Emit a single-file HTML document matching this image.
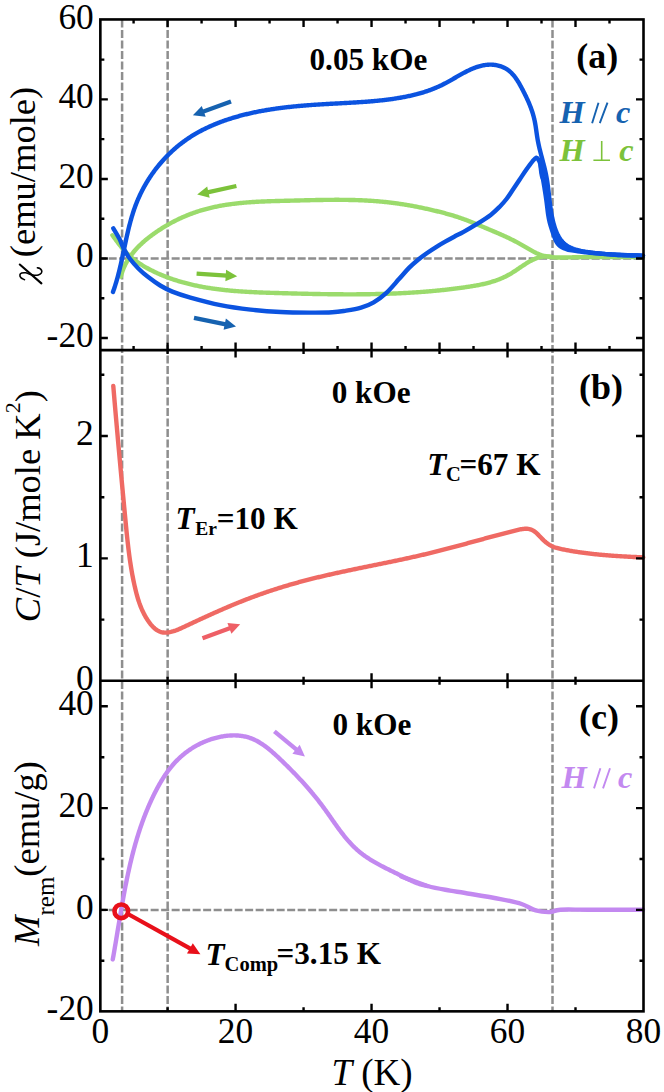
<!DOCTYPE html>
<html><head><meta charset="utf-8"><style>
html,body{margin:0;padding:0;background:#fff;}
body{width:664px;height:1092px;overflow:hidden;font-family:"Liberation Serif",serif;}
svg{display:block;}
</style></head><body>
<svg width="664" height="1092" viewBox="0 0 664 1092"><rect x="0" y="0" width="664" height="1092" fill="#fff"/>
<line x1="122.10" y1="19.45" x2="122.10" y2="1011.35" stroke="#8e8e8e" stroke-width="2.5" stroke-dasharray="8,2.5" fill="none"/>
<line x1="167.65" y1="19.45" x2="167.65" y2="1011.35" stroke="#8e8e8e" stroke-width="2.5" stroke-dasharray="8,2.5" fill="none"/>
<line x1="552.50" y1="19.45" x2="552.50" y2="1011.35" stroke="#8e8e8e" stroke-width="2.5" stroke-dasharray="8,2.5" fill="none"/>
<line x1="100.35" y1="258.50" x2="643.50" y2="258.50" stroke="#8e8e8e" stroke-width="2.5" stroke-dasharray="8,2.5" fill="none" stroke-dashoffset="2.2"/>
<line x1="100.35" y1="909.90" x2="643.50" y2="909.90" stroke="#8e8e8e" stroke-width="2.5" stroke-dasharray="8,2.5" fill="none" stroke-dashoffset="2.2"/>
<path d="M112.42,235.23 L113.01,236.04 L113.60,236.85 L114.20,237.66 L114.79,238.48 L115.39,239.29 L115.98,240.10 L116.58,240.91 L117.18,241.71 L117.79,242.52 L118.40,243.32 L119.01,244.12 L119.63,244.91 L120.25,245.70 L120.88,246.48 L121.51,247.26 L122.15,248.03 L122.80,248.79 L123.45,249.55 L124.12,250.30 L124.79,251.04 L125.47,251.78 L126.15,252.50 L126.85,253.21 L127.56,253.92 L128.28,254.61 L129.01,255.30 L129.74,255.97 L130.49,256.64 L131.25,257.29 L132.01,257.94 L132.79,258.57 L133.57,259.20 L134.36,259.81 L135.16,260.42 L135.96,261.02 L136.78,261.61 L137.60,262.19 L138.43,262.76 L139.26,263.32 L140.10,263.88 L140.95,264.43 L141.80,264.96 L142.66,265.50 L143.52,266.02 L144.39,266.53 L145.26,267.04 L146.14,267.54 L147.03,268.03 L147.91,268.52 L148.80,269.00 L149.70,269.47 L150.59,269.93 L151.49,270.39 L152.40,270.84 L153.30,271.28 L154.21,271.72 L155.12,272.15 L156.03,272.58 L156.95,272.99 L157.86,273.41 L158.78,273.81 L159.70,274.22 L160.62,274.61 L161.54,275.00 L162.46,275.38 L163.39,275.76 L164.31,276.13 L165.24,276.50 L166.17,276.86 L167.10,277.21 L168.03,277.56 L168.97,277.91 L169.91,278.25 L170.84,278.58 L171.78,278.91 L172.72,279.23 L173.66,279.55 L174.61,279.86 L175.55,280.17 L176.50,280.47 L177.44,280.77 L178.39,281.06 L179.34,281.35 L180.29,281.63 L181.25,281.90 L182.20,282.18 L183.16,282.44 L184.11,282.71 L185.07,282.97 L186.03,283.22 L186.99,283.47 L187.95,283.71 L188.91,283.95 L189.88,284.19 L190.84,284.42 L191.81,284.64 L192.78,284.87 L193.74,285.09 L194.71,285.30 L195.69,285.51 L196.66,285.71 L197.63,285.92 L198.60,286.11 L199.58,286.31 L200.56,286.50 L201.53,286.68 L202.51,286.86 L203.49,287.04 L204.47,287.22 L205.45,287.39 L206.43,287.55 L207.41,287.72 L208.40,287.88 L209.38,288.03 L210.37,288.19 L211.35,288.34 L212.34,288.48 L213.33,288.63 L214.32,288.77 L215.31,288.90 L216.30,289.04 L217.29,289.17 L218.28,289.29 L219.27,289.42 L220.27,289.54 L221.26,289.66 L222.26,289.77 L223.25,289.88 L224.25,289.99 L225.25,290.10 L226.24,290.20 L227.24,290.31 L228.24,290.40 L229.24,290.50 L230.24,290.59 L231.24,290.69 L232.24,290.77 L233.24,290.86 L234.24,290.95 L235.25,291.03 L236.25,291.11 L237.25,291.18 L238.26,291.26 L239.26,291.33 L240.27,291.40 L241.27,291.47 L242.28,291.54 L243.28,291.61 L244.29,291.67 L245.30,291.73 L246.30,291.79 L247.31,291.85 L248.32,291.91 L249.33,291.96 L250.34,292.01 L251.35,292.07 L252.35,292.12 L253.36,292.17 L254.37,292.21 L255.38,292.26 L256.39,292.31 L257.40,292.35 L258.41,292.39 L259.42,292.43 L260.43,292.47 L261.44,292.51 L262.45,292.55 L263.46,292.59 L264.48,292.63 L265.49,292.66 L266.50,292.70 L267.51,292.73 L268.52,292.76 L269.53,292.80 L270.54,292.83 L271.55,292.86 L272.56,292.89 L273.57,292.92 L274.58,292.95 L275.60,292.98 L276.61,293.01 L277.62,293.04 L278.63,293.07 L279.64,293.09 L280.65,293.12 L281.66,293.15 L282.67,293.18 L283.68,293.21 L284.68,293.24 L285.69,293.26 L286.70,293.29 L287.71,293.32 L288.72,293.35 L289.73,293.37 L290.74,293.40 L291.74,293.43 L292.75,293.45 L293.76,293.48 L294.77,293.50 L295.78,293.53 L296.78,293.56 L297.79,293.58 L298.80,293.61 L299.80,293.63 L300.81,293.66 L301.82,293.68 L302.82,293.70 L303.83,293.73 L304.83,293.75 L305.84,293.77 L306.85,293.80 L307.85,293.82 L308.86,293.84 L309.86,293.86 L310.87,293.88 L311.87,293.91 L312.88,293.93 L313.88,293.95 L314.89,293.97 L315.89,293.99 L316.90,294.01 L317.90,294.02 L318.90,294.04 L319.91,294.06 L320.91,294.08 L321.92,294.09 L322.92,294.11 L323.92,294.13 L324.93,294.14 L325.93,294.16 L326.93,294.17 L327.93,294.18 L328.94,294.20 L329.94,294.21 L330.94,294.22 L331.94,294.23 L332.95,294.25 L333.95,294.26 L334.95,294.27 L335.95,294.28 L336.95,294.28 L337.96,294.29 L338.96,294.30 L339.96,294.31 L340.96,294.31 L341.96,294.32 L342.96,294.32 L343.96,294.33 L344.96,294.33 L345.97,294.34 L346.97,294.34 L347.97,294.34 L348.97,294.34 L349.97,294.34 L350.97,294.34 L351.97,294.34 L352.97,294.34 L353.97,294.34 L354.97,294.33 L355.97,294.33 L356.97,294.32 L357.97,294.32 L358.97,294.31 L359.97,294.30 L360.97,294.30 L361.97,294.29 L362.96,294.28 L363.96,294.27 L364.96,294.26 L365.96,294.24 L366.96,294.23 L367.96,294.22 L368.96,294.20 L369.96,294.19 L370.96,294.17 L371.95,294.15 L372.95,294.13 L373.95,294.11 L374.95,294.09 L375.95,294.07 L376.95,294.05 L377.94,294.03 L378.94,294.00 L379.94,293.98 L380.94,293.95 L381.94,293.93 L382.93,293.90 L383.93,293.87 L384.93,293.84 L385.93,293.81 L386.92,293.78 L387.92,293.74 L388.92,293.71 L389.92,293.67 L390.91,293.64 L391.91,293.60 L392.91,293.56 L393.91,293.52 L394.90,293.48 L395.90,293.44 L396.90,293.39 L397.89,293.35 L398.89,293.31 L399.89,293.26 L400.89,293.21 L401.88,293.16 L402.88,293.11 L403.88,293.06 L404.87,293.01 L405.87,292.96 L406.87,292.90 L407.86,292.84 L408.86,292.79 L409.86,292.73 L410.85,292.67 L411.85,292.61 L412.85,292.55 L413.84,292.48 L414.84,292.42 L415.84,292.35 L416.83,292.28 L417.83,292.22 L418.83,292.15 L419.82,292.07 L420.82,292.00 L421.82,291.93 L422.81,291.85 L423.81,291.77 L424.80,291.70 L425.80,291.62 L426.80,291.54 L427.79,291.45 L428.79,291.37 L429.79,291.28 L430.78,291.20 L431.78,291.11 L432.78,291.02 L433.77,290.93 L434.77,290.84 L435.77,290.74 L436.76,290.65 L437.76,290.55 L438.75,290.45 L439.75,290.35 L440.75,290.25 L441.74,290.15 L442.74,290.04 L443.74,289.94 L444.73,289.83 L445.73,289.72 L446.73,289.61 L447.72,289.50 L448.72,289.38 L449.72,289.27 L450.71,289.15 L451.71,289.03 L452.71,288.91 L453.70,288.79 L454.70,288.67 L455.70,288.54 L456.69,288.41 L457.69,288.29 L458.69,288.15 L459.68,288.02 L460.68,287.89 L461.68,287.75 L462.67,287.62 L463.67,287.48 L464.67,287.34 L465.66,287.19 L466.66,287.05 L467.66,286.90 L468.65,286.75 L469.65,286.60 L470.64,286.44 L471.64,286.28 L472.63,286.12 L473.63,285.95 L474.62,285.78 L475.61,285.61 L476.60,285.43 L477.58,285.24 L478.57,285.05 L479.56,284.86 L480.54,284.66 L481.52,284.45 L482.50,284.24 L483.48,284.02 L484.45,283.79 L485.43,283.56 L486.40,283.32 L487.37,283.07 L488.33,282.82 L489.30,282.55 L490.26,282.28 L491.21,282.00 L492.17,281.72 L493.12,281.42 L494.07,281.11 L495.01,280.80 L495.96,280.48 L496.89,280.14 L497.83,279.80 L498.76,279.44 L499.69,279.08 L500.61,278.70 L501.53,278.32 L502.44,277.92 L503.36,277.51 L504.26,277.09 L505.16,276.66 L506.06,276.21 L506.95,275.76 L507.84,275.29 L508.73,274.80 L509.60,274.31 L510.48,273.80 L511.35,273.28 L512.21,272.75 L513.07,272.21 L513.93,271.66 L514.78,271.10 L515.63,270.54 L516.48,269.97 L517.33,269.40 L518.18,268.83 L519.03,268.25 L519.87,267.67 L520.72,267.10 L521.57,266.53 L522.41,265.96 L523.26,265.39 L524.11,264.83 L524.96,264.28 L525.82,263.74 L526.68,263.20 L527.54,262.68 L528.40,262.16 L529.27,261.66 L530.14,261.17 L531.02,260.70 L531.90,260.25 L532.79,259.81 L533.69,259.39 L534.59,259.00 L535.50,258.62 L536.42,258.27 L537.34,257.95 L538.27,257.65 L539.21,257.38 L540.16,257.14 L541.12,256.93 L542.09,256.75 L543.07,256.61 L544.06,256.50 L545.06,256.43 L546.08,256.39 L547.10,256.40 L548.14,256.44 L549.19,256.53 L550.25,256.66 L551.33,256.83" fill="none" stroke="#9bdb6c" stroke-width="4.40" stroke-linecap="round" stroke-linejoin="round" />
<path d="M120.83,276.72 L121.08,275.72 L121.36,274.72 L121.65,273.73 L121.95,272.76 L122.28,271.79 L122.62,270.83 L122.97,269.88 L123.34,268.94 L123.73,268.01 L124.13,267.09 L124.54,266.18 L124.97,265.28 L125.41,264.39 L125.87,263.50 L126.34,262.63 L126.82,261.76 L127.32,260.90 L127.83,260.05 L128.36,259.21 L128.89,258.38 L129.44,257.55 L130.00,256.74 L130.57,255.93 L131.16,255.13 L131.75,254.34 L132.36,253.55 L132.97,252.78 L133.60,252.01 L134.24,251.25 L134.89,250.49 L135.54,249.75 L136.21,249.01 L136.89,248.28 L137.57,247.55 L138.27,246.83 L138.97,246.12 L139.68,245.42 L140.40,244.73 L141.13,244.04 L141.86,243.35 L142.61,242.68 L143.36,242.01 L144.11,241.34 L144.88,240.69 L145.65,240.04 L146.42,239.39 L147.20,238.75 L147.99,238.12 L148.79,237.50 L149.58,236.88 L150.39,236.26 L151.19,235.65 L152.01,235.05 L152.82,234.45 L153.64,233.86 L154.47,233.27 L155.30,232.69 L156.13,232.11 L156.96,231.54 L157.80,230.98 L158.64,230.42 L159.49,229.86 L160.34,229.31 L161.19,228.77 L162.04,228.23 L162.90,227.69 L163.76,227.16 L164.62,226.64 L165.49,226.12 L166.36,225.61 L167.23,225.11 L168.10,224.60 L168.98,224.11 L169.86,223.62 L170.75,223.13 L171.63,222.66 L172.52,222.18 L173.41,221.72 L174.31,221.25 L175.20,220.80 L176.10,220.35 L177.00,219.90 L177.91,219.46 L178.81,219.03 L179.72,218.60 L180.63,218.18 L181.55,217.76 L182.46,217.35 L183.38,216.95 L184.30,216.55 L185.22,216.16 L186.15,215.77 L187.07,215.39 L188.00,215.01 L188.93,214.64 L189.87,214.28 L190.80,213.92 L191.74,213.57 L192.67,213.23 L193.61,212.89 L194.55,212.55 L195.50,212.23 L196.44,211.91 L197.39,211.59 L198.34,211.28 L199.29,210.98 L200.24,210.68 L201.19,210.39 L202.15,210.11 L203.10,209.83 L204.06,209.56 L205.02,209.29 L205.98,209.03 L206.94,208.78 L207.90,208.53 L208.86,208.29 L209.83,208.05 L210.80,207.81 L211.76,207.59 L212.73,207.37 L213.70,207.15 L214.67,206.94 L215.65,206.73 L216.62,206.53 L217.60,206.34 L218.57,206.14 L219.55,205.96 L220.53,205.78 L221.51,205.60 L222.49,205.43 L223.47,205.26 L224.45,205.10 L225.44,204.94 L226.42,204.78 L227.41,204.63 L228.39,204.49 L229.38,204.35 L230.37,204.21 L231.36,204.07 L232.35,203.94 L233.34,203.82 L234.33,203.70 L235.33,203.58 L236.32,203.46 L237.31,203.35 L238.31,203.24 L239.30,203.14 L240.30,203.04 L241.30,202.94 L242.30,202.85 L243.30,202.75 L244.29,202.67 L245.30,202.58 L246.30,202.50 L247.30,202.42 L248.30,202.34 L249.30,202.27 L250.30,202.19 L251.31,202.13 L252.31,202.06 L253.32,201.99 L254.32,201.93 L255.33,201.87 L256.33,201.82 L257.34,201.76 L258.35,201.71 L259.35,201.66 L260.36,201.61 L261.37,201.56 L262.38,201.51 L263.39,201.47 L264.39,201.43 L265.40,201.39 L266.41,201.35 L267.42,201.31 L268.43,201.27 L269.44,201.24 L270.45,201.20 L271.46,201.17 L272.47,201.14 L273.48,201.11 L274.49,201.08 L275.50,201.05 L276.51,201.02 L277.52,200.99 L278.54,200.97 L279.55,200.94 L280.56,200.91 L281.57,200.89 L282.58,200.86 L283.59,200.84 L284.60,200.81 L285.61,200.79 L286.62,200.77 L287.63,200.74 L288.64,200.72 L289.65,200.69 L290.66,200.67 L291.67,200.64 L292.68,200.62 L293.69,200.59 L294.70,200.57 L295.70,200.54 L296.71,200.51 L297.72,200.49 L298.73,200.46 L299.74,200.44 L300.74,200.41 L301.75,200.39 L302.76,200.36 L303.76,200.34 L304.77,200.31 L305.78,200.29 L306.78,200.26 L307.79,200.24 L308.80,200.21 L309.80,200.19 L310.81,200.17 L311.81,200.14 L312.82,200.12 L313.82,200.10 L314.83,200.08 L315.83,200.06 L316.84,200.04 L317.84,200.02 L318.84,200.00 L319.85,199.98 L320.85,199.97 L321.86,199.95 L322.86,199.93 L323.86,199.92 L324.87,199.91 L325.87,199.89 L326.87,199.88 L327.87,199.87 L328.88,199.86 L329.88,199.85 L330.88,199.84 L331.88,199.84 L332.88,199.83 L333.88,199.83 L334.89,199.82 L335.89,199.82 L336.89,199.82 L337.89,199.82 L338.89,199.82 L339.89,199.83 L340.89,199.83 L341.89,199.84 L342.89,199.85 L343.89,199.85 L344.89,199.87 L345.89,199.88 L346.89,199.89 L347.89,199.91 L348.89,199.93 L349.88,199.94 L350.88,199.96 L351.88,199.99 L352.88,200.01 L353.88,200.04 L354.88,200.07 L355.87,200.10 L356.87,200.13 L357.87,200.16 L358.87,200.20 L359.87,200.24 L360.86,200.28 L361.86,200.32 L362.86,200.36 L363.85,200.41 L364.85,200.46 L365.85,200.51 L366.84,200.56 L367.84,200.62 L368.84,200.68 L369.83,200.74 L370.83,200.80 L371.82,200.86 L372.82,200.93 L373.81,201.00 L374.81,201.08 L375.81,201.15 L376.80,201.23 L377.80,201.31 L378.79,201.39 L379.79,201.48 L380.78,201.57 L381.77,201.66 L382.77,201.75 L383.76,201.85 L384.76,201.95 L385.75,202.05 L386.75,202.16 L387.74,202.27 L388.73,202.38 L389.73,202.50 L390.72,202.62 L391.71,202.74 L392.71,202.86 L393.70,202.99 L394.69,203.12 L395.69,203.25 L396.68,203.39 L397.67,203.53 L398.66,203.67 L399.65,203.82 L400.65,203.96 L401.64,204.11 L402.63,204.27 L403.62,204.42 L404.61,204.58 L405.60,204.75 L406.59,204.91 L407.58,205.08 L408.57,205.25 L409.56,205.42 L410.55,205.60 L411.54,205.77 L412.53,205.95 L413.52,206.14 L414.50,206.32 L415.49,206.51 L416.48,206.70 L417.46,206.90 L418.45,207.09 L419.44,207.29 L420.42,207.49 L421.41,207.69 L422.39,207.90 L423.37,208.11 L424.36,208.32 L425.34,208.53 L426.32,208.74 L427.31,208.96 L428.29,209.18 L429.27,209.40 L430.25,209.62 L431.23,209.85 L432.21,210.08 L433.19,210.31 L434.16,210.54 L435.14,210.77 L436.12,211.01 L437.10,211.25 L438.07,211.49 L439.05,211.73 L440.02,211.98 L440.99,212.22 L441.97,212.48 L442.94,212.73 L443.91,212.98 L444.88,213.24 L445.85,213.51 L446.81,213.77 L447.78,214.04 L448.74,214.31 L449.71,214.59 L450.67,214.87 L451.63,215.15 L452.59,215.44 L453.55,215.73 L454.50,216.03 L455.46,216.33 L456.41,216.63 L457.36,216.94 L458.31,217.25 L459.26,217.57 L460.21,217.89 L461.15,218.22 L462.09,218.55 L463.04,218.89 L463.97,219.23 L464.91,219.57 L465.85,219.92 L466.78,220.28 L467.71,220.63 L468.65,220.99 L469.58,221.36 L470.50,221.73 L471.43,222.10 L472.36,222.47 L473.29,222.84 L474.21,223.22 L475.14,223.60 L476.06,223.98 L476.98,224.37 L477.91,224.75 L478.83,225.14 L479.75,225.53 L480.67,225.91 L481.59,226.30 L482.51,226.69 L483.43,227.08 L484.36,227.47 L485.28,227.86 L486.20,228.25 L487.12,228.64 L488.04,229.03 L488.97,229.42 L489.89,229.81 L490.81,230.20 L491.73,230.59 L492.66,230.98 L493.58,231.37 L494.50,231.76 L495.42,232.15 L496.34,232.55 L497.26,232.94 L498.18,233.34 L499.10,233.74 L500.02,234.14 L500.94,234.54 L501.85,234.95 L502.77,235.36 L503.68,235.77 L504.60,236.18 L505.51,236.60 L506.42,237.02 L507.33,237.45 L508.24,237.87 L509.15,238.30 L510.05,238.74 L510.96,239.18 L511.86,239.62 L512.76,240.07 L513.66,240.53 L514.55,240.99 L515.45,241.45 L516.34,241.92 L517.23,242.39 L518.12,242.87 L519.01,243.36 L519.89,243.85 L520.77,244.35 L521.65,244.85 L522.53,245.36 L523.41,245.87 L524.28,246.38 L525.15,246.89 L526.03,247.41 L526.90,247.92 L527.77,248.43 L528.65,248.94 L529.52,249.44 L530.39,249.94 L531.27,250.43 L532.15,250.91 L533.03,251.39 L533.91,251.85 L534.79,252.31 L535.68,252.74 L536.57,253.17 L537.47,253.57 L538.37,253.95 L539.28,254.32 L540.19,254.66 L541.12,254.97 L542.04,255.27 L542.98,255.54 L543.92,255.79 L544.86,256.02 L545.81,256.22 L546.77,256.41 L547.73,256.58 L548.70,256.74 L549.67,256.87 L550.64,256.99 L551.62,257.10 L552.61,257.19 L553.59,257.27 L554.58,257.34 L555.58,257.39 L556.57,257.43 L557.57,257.47 L558.57,257.49 L559.58,257.50 L560.58,257.51 L561.59,257.51 L562.60,257.51 L563.61,257.50 L564.62,257.48 L565.63,257.47 L566.64,257.45 L567.65,257.42 L568.67,257.40 L569.68,257.38 L570.69,257.35 L571.70,257.33 L572.71,257.31 L573.73,257.29 L574.74,257.27 L575.75,257.25 L576.76,257.23 L577.76,257.21 L578.77,257.20 L579.78,257.18 L580.79,257.17 L581.80,257.15 L582.80,257.14 L583.81,257.13 L584.82,257.11 L585.83,257.10 L586.83,257.09 L587.84,257.08 L588.84,257.07 L589.85,257.06 L590.85,257.05 L591.86,257.05 L592.86,257.04 L593.87,257.03 L594.87,257.03 L595.87,257.02 L596.88,257.02 L597.88,257.01 L598.89,257.01 L599.89,257.00 L600.89,257.00 L601.89,257.00 L602.90,257.00 L603.90,257.00 L604.90,256.99 L605.90,256.99 L606.91,256.99 L607.91,257.00 L608.91,257.00 L609.91,257.00 L610.91,257.00 L611.92,257.00 L612.92,257.00 L613.92,257.01 L614.92,257.01 L615.92,257.01 L616.92,257.02 L617.93,257.02 L618.93,257.03 L619.93,257.03 L620.93,257.04 L621.93,257.04 L622.94,257.05 L623.94,257.06 L624.94,257.06 L625.94,257.07 L626.94,257.08 L627.95,257.08 L628.95,257.09 L629.95,257.10 L630.95,257.10 L631.96,257.11 L632.96,257.12 L633.96,257.13 L634.97,257.14 L635.97,257.15 L636.97,257.15 L637.98,257.16 L638.98,257.17 L639.98,257.18 L640.99,257.19 L641.99,257.20 L643.00,257.21" fill="none" stroke="#9bdb6c" stroke-width="4.40" stroke-linecap="round" stroke-linejoin="round" />
<path d="M113.30,228.30 C114.30,230.02 117.50,235.08 119.30,238.60 C121.10,242.12 122.30,246.00 124.10,249.40 C125.90,252.80 127.68,255.78 130.10,259.00 C132.52,262.22 135.58,265.68 138.60,268.70 C141.62,271.72 144.60,274.30 148.20,277.10 C151.80,279.90 156.18,283.08 160.20,285.50 C164.22,287.92 167.27,289.58 172.30,291.60 C177.33,293.62 182.37,295.35 190.40,297.60 C198.43,299.85 210.47,303.10 220.50,305.10 C230.53,307.10 240.57,308.45 250.60,309.60 C260.63,310.75 270.80,311.50 280.70,312.00 C290.60,312.50 301.42,312.55 310.00,312.60 C318.58,312.65 326.37,312.60 332.20,312.30 C338.03,312.00 340.18,311.58 345.00,310.80 C349.82,310.02 356.32,309.02 361.10,307.60 C365.88,306.18 369.48,304.77 373.70,302.30 C377.92,299.83 382.18,296.67 386.40,292.80 C390.62,288.93 395.23,283.25 399.00,279.10 C402.77,274.95 405.82,271.13 409.00,267.90 C412.18,264.67 415.08,262.18 418.10,259.70 C421.12,257.22 424.10,255.10 427.10,253.00 C430.10,250.90 433.08,248.98 436.10,247.10 C439.12,245.22 442.18,243.43 445.20,241.70 C448.22,239.97 451.13,238.35 454.20,236.70 C457.27,235.05 459.78,233.93 463.60,231.80 C467.42,229.67 472.58,226.72 477.10,223.90 C481.62,221.08 486.93,217.77 490.70,214.90 C494.47,212.03 497.07,209.35 499.70,206.70 C502.33,204.05 504.28,201.87 506.50,199.00 C508.72,196.13 510.80,192.75 513.00,189.50 C515.20,186.25 517.47,182.83 519.70,179.50 C521.93,176.17 524.27,172.53 526.40,169.50 C528.53,166.47 530.83,163.28 532.50,161.30 C534.17,159.32 535.38,157.82 536.40,157.60 C537.42,157.38 537.95,158.93 538.60,160.00 C539.25,161.07 539.65,161.33 540.30,164.00 C540.95,166.67 541.80,171.97 542.50,176.00 C543.20,180.03 543.87,184.20 544.50,188.20 C545.13,192.20 545.68,195.53 546.30,200.00 C546.92,204.47 547.63,211.25 548.20,215.00 C548.77,218.75 549.07,220.00 549.70,222.50 C550.33,225.00 551.18,227.48 552.00,230.00 C552.82,232.52 553.85,235.60 554.60,237.60 C555.35,239.60 555.77,240.73 556.50,242.00 C557.23,243.27 558.08,244.33 559.00,245.20 C559.92,246.07 560.83,246.57 562.00,247.20 C563.17,247.83 564.67,248.50 566.00,249.00 C567.33,249.50 568.05,249.83 570.00,250.20 C571.95,250.57 575.17,250.87 577.70,251.20 C580.23,251.53 583.15,251.93 585.20,252.20 C587.25,252.47 587.42,252.55 590.00,252.80 C592.58,253.05 596.67,253.38 600.70,253.70 C604.73,254.02 609.68,254.45 614.20,254.70 C618.72,254.95 623.00,255.03 627.80,255.20 C632.60,255.37 640.47,255.62 643.00,255.70" fill="none" stroke="#0b53e0" stroke-width="4.40" stroke-linecap="round" stroke-linejoin="round" />
<path d="M112.98,291.98 L113.31,291.04 L113.64,290.10 L113.97,289.16 L114.29,288.22 L114.60,287.28 L114.91,286.33 L115.21,285.38 L115.51,284.44 L115.80,283.48 L116.09,282.53 L116.37,281.57 L116.65,280.62 L116.93,279.66 L117.20,278.70 L117.46,277.74 L117.72,276.77 L117.98,275.81 L118.24,274.84 L118.49,273.88 L118.74,272.91 L118.98,271.94 L119.22,270.97 L119.46,269.99 L119.70,269.02 L119.93,268.04 L120.16,267.07 L120.39,266.09 L120.61,265.11 L120.83,264.14 L121.05,263.16 L121.27,262.18 L121.49,261.20 L121.71,260.22 L121.92,259.23 L122.13,258.25 L122.34,257.27 L122.55,256.28 L122.76,255.30 L122.97,254.32 L123.18,253.33 L123.39,252.35 L123.60,251.36 L123.80,250.38 L124.01,249.39 L124.22,248.41 L124.42,247.42 L124.63,246.44 L124.84,245.45 L125.05,244.47 L125.26,243.49 L125.47,242.50 L125.68,241.52 L125.89,240.53 L126.10,239.55 L126.32,238.57 L126.53,237.59 L126.75,236.61 L126.97,235.63 L127.19,234.65 L127.41,233.67 L127.64,232.69 L127.87,231.71 L128.10,230.73 L128.33,229.76 L128.57,228.78 L128.81,227.81 L129.05,226.84 L129.29,225.87 L129.54,224.90 L129.79,223.93 L130.05,222.96 L130.31,221.99 L130.57,221.03 L130.84,220.06 L131.11,219.10 L131.39,218.14 L131.67,217.18 L131.95,216.23 L132.24,215.27 L132.54,214.32 L132.84,213.37 L133.14,212.42 L133.45,211.47 L133.76,210.52 L134.08,209.58 L134.41,208.64 L134.74,207.70 L135.08,206.76 L135.42,205.82 L135.77,204.89 L136.13,203.96 L136.49,203.03 L136.86,202.11 L137.24,201.18 L137.62,200.26 L138.01,199.34 L138.41,198.43 L138.81,197.51 L139.22,196.60 L139.64,195.70 L140.06,194.79 L140.49,193.89 L140.93,192.99 L141.37,192.10 L141.82,191.20 L142.27,190.31 L142.73,189.43 L143.20,188.54 L143.68,187.66 L144.16,186.79 L144.64,185.91 L145.14,185.04 L145.64,184.17 L146.14,183.31 L146.65,182.45 L147.17,181.59 L147.69,180.74 L148.22,179.89 L148.76,179.05 L149.30,178.20 L149.85,177.36 L150.40,176.53 L150.96,175.70 L151.52,174.87 L152.09,174.05 L152.67,173.23 L153.25,172.42 L153.84,171.61 L154.43,170.80 L155.03,170.00 L155.64,169.20 L156.25,168.40 L156.87,167.61 L157.49,166.83 L158.11,166.05 L158.75,165.27 L159.39,164.50 L160.03,163.73 L160.68,162.97 L161.33,162.21 L161.99,161.46 L162.66,160.71 L163.33,159.96 L164.00,159.23 L164.68,158.49 L165.37,157.76 L166.06,157.04 L166.76,156.32 L167.46,155.60 L168.16,154.90 L168.87,154.19 L169.59,153.49 L170.31,152.80 L171.04,152.11 L171.77,151.43 L172.50,150.75 L173.24,150.08 L173.99,149.41 L174.74,148.75 L175.49,148.10 L176.25,147.45 L177.02,146.80 L177.79,146.16 L178.56,145.53 L179.34,144.90 L180.12,144.28 L180.91,143.67 L181.70,143.06 L182.50,142.45 L183.30,141.86 L184.10,141.27 L184.91,140.68 L185.72,140.10 L186.54,139.53 L187.36,138.96 L188.19,138.41 L189.02,137.85 L189.86,137.30 L190.69,136.76 L191.54,136.23 L192.38,135.70 L193.24,135.18 L194.09,134.66 L194.95,134.15 L195.81,133.65 L196.68,133.15 L197.55,132.66 L198.42,132.17 L199.29,131.69 L200.17,131.21 L201.06,130.75 L201.94,130.28 L202.83,129.82 L203.73,129.37 L204.62,128.93 L205.52,128.49 L206.42,128.05 L207.33,127.62 L208.24,127.20 L209.15,126.78 L210.06,126.36 L210.98,125.96 L211.89,125.55 L212.82,125.15 L213.74,124.76 L214.67,124.38 L215.59,123.99 L216.53,123.62 L217.46,123.24 L218.39,122.88 L219.33,122.52 L220.27,122.16 L221.21,121.81 L222.16,121.46 L223.10,121.12 L224.05,120.78 L225.00,120.45 L225.95,120.12 L226.90,119.79 L227.86,119.47 L228.81,119.16 L229.77,118.85 L230.73,118.54 L231.69,118.24 L232.65,117.95 L233.61,117.66 L234.57,117.37 L235.54,117.08 L236.50,116.80 L237.47,116.53 L238.44,116.26 L239.41,115.99 L240.38,115.73 L241.35,115.47 L242.32,115.22 L243.29,114.97 L244.26,114.72 L245.23,114.48 L246.20,114.24 L247.18,114.00 L248.15,113.77 L249.13,113.54 L250.10,113.32 L251.08,113.10 L252.05,112.88 L253.03,112.67 L254.01,112.46 L254.98,112.25 L255.96,112.05 L256.94,111.85 L257.92,111.66 L258.90,111.46 L259.88,111.27 L260.86,111.09 L261.84,110.91 L262.82,110.73 L263.80,110.55 L264.78,110.38 L265.76,110.21 L266.75,110.04 L267.73,109.88 L268.71,109.71 L269.70,109.56 L270.68,109.40 L271.66,109.25 L272.65,109.10 L273.64,108.95 L274.62,108.81 L275.61,108.67 L276.59,108.53 L277.58,108.39 L278.57,108.26 L279.56,108.12 L280.55,108.00 L281.53,107.87 L282.52,107.74 L283.51,107.62 L284.50,107.50 L285.49,107.39 L286.48,107.27 L287.47,107.16 L288.47,107.05 L289.46,106.94 L290.45,106.83 L291.44,106.73 L292.43,106.63 L293.43,106.53 L294.42,106.43 L295.41,106.33 L296.41,106.24 L297.40,106.14 L298.40,106.05 L299.39,105.96 L300.39,105.87 L301.38,105.79 L302.38,105.70 L303.38,105.62 L304.37,105.54 L305.37,105.46 L306.37,105.38 L307.37,105.30 L308.36,105.23 L309.36,105.15 L310.36,105.08 L311.36,105.01 L312.36,104.93 L313.36,104.86 L314.36,104.80 L315.36,104.73 L316.36,104.66 L317.36,104.60 L318.36,104.53 L319.36,104.47 L320.36,104.41 L321.36,104.34 L322.36,104.28 L323.37,104.22 L324.37,104.16 L325.37,104.10 L326.37,104.04 L327.38,103.99 L328.38,103.93 L329.39,103.87 L330.39,103.82 L331.39,103.76 L332.40,103.71 L333.40,103.65 L334.41,103.60 L335.41,103.54 L336.42,103.49 L337.42,103.43 L338.43,103.38 L339.43,103.33 L340.44,103.27 L341.45,103.22 L342.45,103.17 L343.46,103.11 L344.47,103.06 L345.47,103.00 L346.48,102.95 L347.49,102.90 L348.49,102.84 L349.50,102.78 L350.51,102.73 L351.51,102.67 L352.52,102.61 L353.53,102.55 L354.53,102.49 L355.54,102.43 L356.54,102.37 L357.55,102.31 L358.56,102.25 L359.56,102.18 L360.57,102.12 L361.57,102.05 L362.58,101.98 L363.58,101.91 L364.58,101.84 L365.59,101.76 L366.59,101.69 L367.59,101.61 L368.60,101.53 L369.60,101.45 L370.60,101.37 L371.60,101.29 L372.60,101.20 L373.60,101.11 L374.60,101.02 L375.60,100.93 L376.60,100.84 L377.60,100.74 L378.59,100.64 L379.59,100.54 L380.59,100.43 L381.58,100.33 L382.58,100.22 L383.57,100.10 L384.56,99.99 L385.55,99.87 L386.54,99.75 L387.54,99.62 L388.52,99.50 L389.51,99.37 L390.50,99.23 L391.49,99.10 L392.47,98.96 L393.46,98.81 L394.44,98.67 L395.43,98.51 L396.41,98.36 L397.39,98.20 L398.37,98.04 L399.35,97.88 L400.33,97.71 L401.30,97.53 L402.28,97.36 L403.25,97.18 L404.22,96.99 L405.20,96.80 L406.17,96.61 L407.14,96.41 L408.10,96.21 L409.07,96.00 L410.04,95.79 L411.00,95.57 L411.96,95.35 L412.93,95.13 L413.89,94.90 L414.84,94.66 L415.80,94.42 L416.76,94.18 L417.71,93.92 L418.66,93.67 L419.62,93.40 L420.57,93.14 L421.52,92.86 L422.46,92.58 L423.41,92.29 L424.35,92.00 L425.30,91.70 L426.24,91.39 L427.18,91.07 L428.12,90.75 L429.05,90.42 L429.99,90.08 L430.92,89.74 L431.86,89.39 L432.79,89.03 L433.72,88.66 L434.65,88.28 L435.57,87.90 L436.50,87.50 L437.42,87.10 L438.34,86.69 L439.26,86.27 L440.18,85.84 L441.10,85.40 L442.02,84.96 L442.93,84.50 L443.84,84.03 L444.75,83.56 L445.66,83.08 L446.57,82.59 L447.48,82.10 L448.39,81.60 L449.29,81.09 L450.20,80.59 L451.10,80.07 L452.00,79.56 L452.91,79.04 L453.81,78.53 L454.71,78.01 L455.61,77.49 L456.51,76.97 L457.41,76.46 L458.31,75.94 L459.21,75.43 L460.11,74.92 L461.02,74.42 L461.92,73.92 L462.82,73.43 L463.72,72.94 L464.62,72.46 L465.53,71.99 L466.43,71.53 L467.33,71.07 L468.24,70.63 L469.14,70.19 L470.05,69.77 L470.96,69.36 L471.87,68.96 L472.78,68.57 L473.69,68.20 L474.60,67.84 L475.52,67.50 L476.44,67.17 L477.35,66.86 L478.27,66.57 L479.20,66.29 L480.12,66.04 L481.05,65.80 L481.97,65.58 L482.90,65.39 L483.84,65.21 L484.77,65.06 L485.71,64.93 L486.65,64.82 L487.59,64.74 L488.54,64.68 L489.49,64.64 L490.44,64.64 L491.39,64.66 L492.35,64.70 L493.31,64.78 L494.27,64.88 L495.24,65.02 L496.20,65.18 L497.16,65.37 L498.12,65.59 L499.07,65.84 L500.02,66.12 L500.96,66.43 L501.88,66.77 L502.80,67.14 L503.70,67.54 L504.59,67.97 L505.46,68.43 L506.31,68.92 L507.14,69.44 L507.95,69.99 L508.74,70.58 L509.50,71.19 L510.25,71.83 L510.97,72.50 L511.68,73.19 L512.36,73.91 L513.03,74.65 L513.68,75.41 L514.32,76.19 L514.94,76.99 L515.54,77.80 L516.13,78.64 L516.71,79.48 L517.27,80.34 L517.83,81.22 L518.37,82.10 L518.90,82.99 L519.42,83.89 L519.94,84.80 L520.44,85.71 L520.94,86.63 L521.44,87.54 L521.92,88.46 L522.41,89.38 L522.89,90.30 L523.36,91.22 L523.83,92.14 L524.29,93.06 L524.75,93.98 L525.21,94.89 L525.65,95.81 L526.10,96.73 L526.53,97.64 L526.96,98.56 L527.39,99.48 L527.80,100.40 L528.21,101.32 L528.61,102.24 L529.00,103.16 L529.39,104.09 L529.77,105.01 L530.14,105.94 L530.50,106.86 L530.85,107.79 L531.19,108.72 L531.52,109.66 L531.85,110.59 L532.16,111.53 L532.47,112.47 L532.76,113.41 L533.04,114.36 L533.31,115.31 L533.57,116.26 L533.82,117.22 L534.06,118.17 L534.29,119.13 L534.50,120.10 L534.71,121.07 L534.90,122.04 L535.08,123.01 L535.26,123.99 L535.42,124.97 L535.58,125.95 L535.74,126.94 L535.89,127.92 L536.04,128.91 L536.18,129.90 L536.32,130.89 L536.46,131.88 L536.61,132.87 L536.75,133.86 L536.90,134.85 L537.04,135.84 L537.20,136.83 L537.36,137.82 L537.52,138.81 L537.69,139.79 L537.87,140.78 L538.06,141.77 L538.26,142.75 L538.46,143.73 L538.67,144.71 L538.88,145.69 L539.10,146.67 L539.33,147.65 L539.56,148.63 L539.80,149.60 L540.04,150.58 L540.28,151.55 L540.53,152.53 L540.78,153.50 L541.03,154.47 L541.28,155.44 L541.54,156.42 L541.79,157.39 L542.05,158.36 L542.31,159.33 L542.56,160.30 L542.82,161.27 L543.07,162.25 L543.32,163.22 L543.58,164.19 L543.82,165.16 L544.07,166.13 L544.31,167.11 L544.55,168.08 L544.78,169.05 L545.01,170.03 L545.24,171.00 L545.46,171.98 L545.67,172.96 L545.88,173.93 L546.08,174.91 L546.27,175.89 L546.45,176.87 L546.63,177.85 L546.80,178.84 L546.97,179.82 L547.12,180.81 L547.28,181.79 L547.42,182.78 L547.56,183.77 L547.70,184.75 L547.83,185.74 L547.96,186.73 L548.09,187.72 L548.21,188.71 L548.33,189.71 L548.45,190.70 L548.56,191.69 L548.67,192.68 L548.79,193.68 L548.90,194.67 L549.01,195.67 L549.12,196.66 L549.23,197.65 L549.35,198.65 L549.46,199.64 L549.58,200.64 L549.69,201.63 L549.81,202.63 L549.93,203.63 L550.06,204.62 L550.19,205.62 L550.32,206.61 L550.46,207.61 L550.60,208.60 L550.75,209.59 L550.90,210.59 L551.06,211.58 L551.22,212.58 L551.40,213.57 L551.57,214.56 L551.76,215.55 L551.95,216.54 L552.15,217.54 L552.37,218.53 L552.58,219.52 L552.81,220.50 L553.05,221.49 L553.30,222.48 L553.56,223.47 L553.83,224.45 L554.11,225.43 L554.40,226.41 L554.71,227.38 L555.03,228.35 L555.37,229.31 L555.72,230.25 L556.08,231.19 L556.47,232.12 L556.87,233.04 L557.28,233.94 L557.72,234.83 L558.17,235.70 L558.65,236.55 L559.14,237.39 L559.66,238.21 L560.19,239.01 L560.75,239.78 L561.33,240.53 L561.94,241.26 L562.57,241.97 L563.22,242.65 L563.90,243.30 L564.60,243.92 L565.34,244.51 L566.09,245.08 L566.88,245.61 L567.68,246.12 L568.51,246.60 L569.36,247.05 L570.24,247.48 L571.13,247.89 L572.04,248.28 L572.96,248.64 L573.90,248.98 L574.86,249.30 L575.83,249.61 L576.81,249.89 L577.80,250.16 L578.80,250.41 L579.82,250.65 L580.83,250.88 L581.86,251.09 L582.89,251.29 L583.92,251.47 L584.96,251.65 L586.00,251.82 L587.04,251.98 L588.07,252.14 L589.11,252.29 L590.14,252.43 L591.17,252.57 L592.20,252.70 L593.22,252.83 L594.24,252.96 L595.25,253.08 L596.26,253.20 L597.27,253.31 L598.27,253.42 L599.27,253.53 L600.27,253.64 L601.27,253.74 L602.27,253.83 L603.26,253.93 L604.25,254.01 L605.24,254.10 L606.22,254.18 L607.21,254.26 L608.19,254.34 L609.17,254.42 L610.16,254.49 L611.14,254.56 L612.12,254.62 L613.10,254.68 L614.07,254.74 L615.05,254.80 L616.03,254.86 L617.01,254.91 L617.99,254.96 L618.97,255.01 L619.95,255.05 L620.93,255.10 L621.91,255.14 L622.89,255.18 L623.88,255.21 L624.86,255.25 L625.85,255.28 L626.84,255.32 L627.83,255.35 L628.82,255.37 L629.82,255.40 L630.82,255.43 L631.82,255.45 L632.82,255.47 L633.82,255.50 L634.83,255.52 L635.84,255.53 L636.86,255.55 L637.88,255.57 L638.90,255.59 L639.93,255.60 L640.96,255.62 L641.99,255.63 L643.03,255.64" fill="none" stroke="#0b53e0" stroke-width="4.40" stroke-linecap="round" stroke-linejoin="round" />
<path d="M539.80,162.00 C540.08,164.33 540.38,171.63 541.50,176.00 C542.62,180.37 545.08,181.70 546.50,188.20 C547.92,194.70 548.83,208.03 550.00,215.00 C551.17,221.97 552.38,226.23 553.50,230.00 C554.62,233.77 555.70,235.52 556.70,237.60 C557.70,239.68 558.53,241.18 559.50,242.50 C560.47,243.82 561.42,244.62 562.50,245.50 C563.58,246.38 564.75,247.23 566.00,247.80 C567.25,248.37 568.05,248.42 570.00,248.90 C571.95,249.38 574.37,250.10 577.70,250.70 C581.03,251.30 585.95,252.02 590.00,252.50 C594.05,252.98 597.00,253.25 602.00,253.60 C607.00,253.95 613.67,254.32 620.00,254.60 C626.33,254.88 636.67,255.18 640.00,255.30" fill="none" stroke="#0b53e0" stroke-width="3.50" stroke-linecap="round" stroke-linejoin="round" />
<path d="M113.29,386.01 L113.38,387.01 L113.46,388.00 L113.54,389.00 L113.63,390.00 L113.71,390.99 L113.80,391.99 L113.88,392.99 L113.96,393.99 L114.05,394.98 L114.13,395.98 L114.22,396.98 L114.30,397.97 L114.38,398.97 L114.47,399.97 L114.55,400.97 L114.64,401.96 L114.72,402.96 L114.81,403.96 L114.90,404.96 L114.98,405.96 L115.07,406.95 L115.15,407.95 L115.24,408.95 L115.32,409.95 L115.41,410.94 L115.50,411.94 L115.58,412.94 L115.67,413.94 L115.76,414.94 L115.84,415.93 L115.93,416.93 L116.02,417.93 L116.11,418.93 L116.19,419.93 L116.28,420.92 L116.37,421.92 L116.46,422.92 L116.54,423.92 L116.63,424.92 L116.72,425.91 L116.81,426.91 L116.90,427.91 L116.98,428.91 L117.07,429.91 L117.16,430.91 L117.25,431.90 L117.34,432.90 L117.43,433.90 L117.52,434.90 L117.61,435.90 L117.69,436.90 L117.78,437.89 L117.87,438.89 L117.96,439.89 L118.05,440.89 L118.14,441.89 L118.23,442.89 L118.32,443.88 L118.41,444.88 L118.50,445.88 L118.59,446.88 L118.68,447.88 L118.77,448.88 L118.86,449.87 L118.95,450.87 L119.05,451.87 L119.14,452.87 L119.23,453.87 L119.32,454.87 L119.41,455.87 L119.50,456.86 L119.59,457.86 L119.68,458.86 L119.77,459.86 L119.87,460.86 L119.96,461.86 L120.05,462.85 L120.14,463.85 L120.23,464.85 L120.33,465.85 L120.42,466.85 L120.51,467.85 L120.60,468.84 L120.69,469.84 L120.79,470.84 L120.88,471.84 L120.97,472.84 L121.06,473.83 L121.16,474.83 L121.25,475.83 L121.34,476.83 L121.44,477.83 L121.53,478.83 L121.62,479.82 L121.72,480.82 L121.81,481.82 L121.90,482.82 L122.00,483.81 L122.09,484.81 L122.18,485.81 L122.28,486.81 L122.37,487.81 L122.46,488.80 L122.56,489.80 L122.65,490.80 L122.75,491.80 L122.84,492.80 L122.93,493.79 L123.03,494.79 L123.12,495.79 L123.22,496.79 L123.31,497.78 L123.41,498.78 L123.50,499.78 L123.60,500.78 L123.69,501.77 L123.79,502.77 L123.88,503.77 L123.97,504.76 L124.07,505.76 L124.16,506.76 L124.26,507.76 L124.36,508.75 L124.45,509.75 L124.55,510.75 L124.64,511.74 L124.74,512.74 L124.83,513.74 L124.93,514.73 L125.02,515.73 L125.12,516.73 L125.21,517.72 L125.31,518.72 L125.40,519.72 L125.50,520.71 L125.60,521.71 L125.69,522.71 L125.79,523.70 L125.89,524.70 L125.98,525.69 L126.08,526.69 L126.18,527.69 L126.27,528.68 L126.37,529.68 L126.47,530.67 L126.57,531.67 L126.67,532.66 L126.77,533.66 L126.88,534.65 L126.98,535.65 L127.08,536.64 L127.19,537.64 L127.29,538.63 L127.40,539.63 L127.51,540.62 L127.62,541.62 L127.73,542.61 L127.84,543.60 L127.95,544.60 L128.07,545.59 L128.18,546.59 L128.30,547.58 L128.42,548.57 L128.54,549.56 L128.66,550.56 L128.79,551.55 L128.91,552.54 L129.04,553.53 L129.17,554.52 L129.30,555.52 L129.44,556.51 L129.57,557.50 L129.71,558.49 L129.85,559.48 L129.99,560.47 L130.14,561.46 L130.29,562.45 L130.44,563.44 L130.59,564.43 L130.74,565.42 L130.90,566.40 L131.06,567.39 L131.22,568.38 L131.39,569.37 L131.56,570.36 L131.73,571.34 L131.90,572.33 L132.08,573.32 L132.26,574.30 L132.44,575.29 L132.63,576.27 L132.82,577.26 L133.01,578.24 L133.20,579.23 L133.40,580.21 L133.61,581.19 L133.81,582.18 L134.02,583.16 L134.24,584.14 L134.45,585.12 L134.67,586.11 L134.90,587.09 L135.13,588.07 L135.36,589.05 L135.59,590.03 L135.83,591.01 L136.08,591.99 L136.33,592.96 L136.59,593.94 L136.85,594.91 L137.12,595.88 L137.40,596.85 L137.68,597.82 L137.97,598.78 L138.27,599.75 L138.58,600.71 L138.90,601.66 L139.22,602.62 L139.55,603.57 L139.90,604.51 L140.25,605.46 L140.61,606.39 L140.98,607.33 L141.37,608.26 L141.76,609.19 L142.17,610.11 L142.59,611.02 L143.02,611.94 L143.46,612.84 L143.92,613.74 L144.38,614.64 L144.87,615.53 L145.36,616.41 L145.87,617.29 L146.40,618.16 L146.94,619.02 L147.49,619.88 L148.06,620.73 L148.65,621.57 L149.25,622.41 L149.87,623.23 L150.51,624.04 L151.16,624.83 L151.83,625.60 L152.51,626.35 L153.22,627.07 L153.94,627.76 L154.68,628.42 L155.43,629.03 L156.21,629.61 L157.00,630.15 L157.81,630.64 L158.64,631.09 L159.49,631.48 L160.35,631.81 L161.24,632.09 L162.14,632.30 L163.07,632.46 L164.00,632.55 L164.95,632.60 L165.91,632.59 L166.87,632.54 L167.83,632.45 L168.78,632.32 L169.74,632.16 L170.70,631.96 L171.65,631.73 L172.61,631.47 L173.56,631.19 L174.51,630.88 L175.47,630.55 L176.41,630.20 L177.36,629.83 L178.31,629.44 L179.26,629.04 L180.20,628.63 L181.15,628.21 L182.09,627.78 L183.03,627.34 L183.97,626.90 L184.91,626.46 L185.84,626.02 L186.78,625.58 L187.71,625.15 L188.65,624.71 L189.58,624.27 L190.51,623.84 L191.44,623.40 L192.37,622.97 L193.30,622.53 L194.22,622.10 L195.15,621.67 L196.07,621.24 L197.00,620.81 L197.92,620.38 L198.84,619.96 L199.76,619.53 L200.68,619.11 L201.60,618.68 L202.52,618.26 L203.44,617.84 L204.36,617.42 L205.28,617.00 L206.19,616.58 L207.11,616.16 L208.03,615.74 L208.94,615.33 L209.86,614.91 L210.77,614.50 L211.68,614.09 L212.60,613.68 L213.51,613.27 L214.42,612.86 L215.34,612.45 L216.25,612.05 L217.16,611.64 L218.07,611.24 L218.99,610.84 L219.90,610.43 L220.81,610.04 L221.72,609.64 L222.63,609.24 L223.55,608.84 L224.46,608.45 L225.37,608.06 L226.28,607.66 L227.20,607.27 L228.11,606.88 L229.02,606.50 L229.94,606.11 L230.85,605.73 L231.77,605.34 L232.68,604.96 L233.60,604.58 L234.51,604.20 L235.43,603.82 L236.35,603.45 L237.26,603.07 L238.18,602.70 L239.10,602.33 L240.02,601.96 L240.94,601.59 L241.86,601.22 L242.78,600.86 L243.71,600.49 L244.63,600.13 L245.55,599.77 L246.48,599.41 L247.41,599.05 L248.33,598.70 L249.26,598.34 L250.19,597.99 L251.12,597.64 L252.05,597.29 L252.98,596.94 L253.92,596.59 L254.85,596.25 L255.79,595.91 L256.73,595.57 L257.67,595.23 L258.60,594.89 L259.55,594.55 L260.49,594.22 L261.43,593.89 L262.37,593.56 L263.32,593.23 L264.26,592.90 L265.21,592.57 L266.16,592.25 L267.11,591.93 L268.05,591.61 L269.00,591.29 L269.96,590.97 L270.91,590.66 L271.86,590.34 L272.81,590.03 L273.77,589.72 L274.72,589.41 L275.68,589.10 L276.64,588.80 L277.59,588.50 L278.55,588.19 L279.51,587.89 L280.47,587.59 L281.43,587.30 L282.39,587.00 L283.35,586.71 L284.31,586.42 L285.28,586.13 L286.24,585.84 L287.20,585.55 L288.17,585.27 L289.13,584.98 L290.10,584.70 L291.06,584.42 L292.03,584.14 L293.00,583.87 L293.96,583.59 L294.93,583.32 L295.90,583.05 L296.87,582.78 L297.84,582.51 L298.81,582.24 L299.78,581.98 L300.75,581.71 L301.72,581.45 L302.69,581.19 L303.66,580.94 L304.63,580.68 L305.60,580.42 L306.57,580.17 L307.55,579.92 L308.52,579.67 L309.49,579.42 L310.46,579.17 L311.44,578.93 L312.41,578.68 L313.39,578.44 L314.36,578.20 L315.33,577.96 L316.31,577.72 L317.28,577.48 L318.26,577.25 L319.23,577.01 L320.21,576.78 L321.19,576.55 L322.16,576.32 L323.14,576.09 L324.11,575.86 L325.09,575.63 L326.07,575.40 L327.04,575.18 L328.02,574.95 L329.00,574.73 L329.98,574.51 L330.95,574.29 L331.93,574.07 L332.91,573.85 L333.89,573.63 L334.87,573.41 L335.85,573.19 L336.83,572.98 L337.80,572.76 L338.78,572.55 L339.76,572.34 L340.74,572.12 L341.72,571.91 L342.70,571.70 L343.68,571.49 L344.66,571.28 L345.64,571.07 L346.62,570.86 L347.60,570.66 L348.58,570.45 L349.56,570.24 L350.54,570.04 L351.52,569.83 L352.50,569.63 L353.49,569.42 L354.47,569.22 L355.45,569.02 L356.43,568.81 L357.41,568.61 L358.39,568.41 L359.37,568.21 L360.35,568.00 L361.33,567.80 L362.32,567.60 L363.30,567.40 L364.28,567.20 L365.26,567.00 L366.24,566.80 L367.22,566.60 L368.20,566.40 L369.19,566.20 L370.17,566.00 L371.15,565.80 L372.13,565.60 L373.11,565.40 L374.09,565.20 L375.07,565.00 L376.05,564.81 L377.04,564.61 L378.02,564.41 L379.00,564.21 L379.98,564.01 L380.96,563.81 L381.94,563.61 L382.92,563.41 L383.90,563.21 L384.88,563.00 L385.86,562.80 L386.85,562.60 L387.83,562.40 L388.81,562.20 L389.79,562.00 L390.77,561.79 L391.75,561.59 L392.73,561.39 L393.71,561.18 L394.69,560.98 L395.67,560.77 L396.65,560.57 L397.63,560.36 L398.61,560.15 L399.58,559.95 L400.56,559.74 L401.54,559.53 L402.52,559.32 L403.50,559.11 L404.48,558.90 L405.46,558.69 L406.43,558.48 L407.41,558.27 L408.39,558.05 L409.37,557.84 L410.35,557.62 L411.32,557.41 L412.30,557.19 L413.28,556.97 L414.25,556.75 L415.23,556.53 L416.21,556.31 L417.18,556.09 L418.16,555.87 L419.13,555.64 L420.11,555.42 L421.08,555.19 L422.06,554.97 L423.03,554.74 L424.01,554.51 L424.98,554.28 L425.95,554.05 L426.93,553.81 L427.90,553.58 L428.87,553.34 L429.85,553.11 L430.82,552.87 L431.79,552.63 L432.76,552.39 L433.73,552.15 L434.71,551.91 L435.68,551.67 L436.65,551.42 L437.62,551.18 L438.59,550.93 L439.56,550.68 L440.53,550.44 L441.50,550.19 L442.47,549.94 L443.44,549.69 L444.41,549.44 L445.38,549.19 L446.35,548.93 L447.32,548.68 L448.29,548.43 L449.25,548.17 L450.22,547.92 L451.19,547.66 L452.16,547.40 L453.13,547.15 L454.10,546.89 L455.06,546.63 L456.03,546.37 L457.00,546.11 L457.97,545.85 L458.94,545.59 L459.90,545.33 L460.87,545.07 L461.84,544.81 L462.81,544.55 L463.77,544.28 L464.74,544.02 L465.71,543.76 L466.68,543.50 L467.64,543.23 L468.61,542.97 L469.58,542.71 L470.55,542.44 L471.51,542.18 L472.48,541.92 L473.45,541.65 L474.42,541.39 L475.38,541.12 L476.35,540.86 L477.32,540.60 L478.29,540.33 L479.25,540.07 L480.22,539.80 L481.19,539.54 L482.16,539.28 L483.13,539.01 L484.09,538.75 L485.06,538.49 L486.03,538.23 L487.00,537.96 L487.97,537.70 L488.94,537.44 L489.90,537.18 L490.87,536.92 L491.84,536.66 L492.81,536.40 L493.78,536.14 L494.75,535.88 L495.72,535.62 L496.69,535.36 L497.66,535.10 L498.63,534.85 L499.60,534.59 L500.57,534.33 L501.54,534.08 L502.51,533.82 L503.48,533.57 L504.45,533.32 L505.43,533.06 L506.40,532.81 L507.37,532.56 L508.34,532.31 L509.31,532.06 L510.29,531.81 L511.26,531.56 L512.23,531.32 L513.21,531.07 L514.18,530.83 L515.15,530.58 L516.13,530.34 L517.10,530.10 L518.08,529.87 L519.05,529.65 L520.02,529.44 L520.98,529.26 L521.94,529.09 L522.90,528.96 L523.84,528.85 L524.79,528.78 L525.72,528.75 L526.65,528.76 L527.56,528.81 L528.47,528.92 L529.36,529.08 L530.24,529.30 L531.11,529.58 L531.97,529.93 L532.81,530.35 L533.63,530.84 L534.44,531.39 L535.24,532.01 L536.03,532.67 L536.81,533.38 L537.59,534.13 L538.35,534.90 L539.12,535.69 L539.88,536.49 L540.64,537.29 L541.40,538.09 L542.17,538.88 L542.94,539.64 L543.72,540.39 L544.50,541.10 L545.30,541.79 L546.10,542.45 L546.91,543.08 L547.73,543.68 L548.57,544.25 L549.41,544.79 L550.27,545.30 L551.15,545.77 L552.03,546.20 L552.94,546.60 L553.85,546.97 L554.78,547.31 L555.72,547.63 L556.67,547.92 L557.63,548.19 L558.59,548.44 L559.56,548.68 L560.54,548.90 L561.52,549.11 L562.50,549.31 L563.49,549.51 L564.47,549.71 L565.46,549.90 L566.44,550.08 L567.43,550.27 L568.42,550.45 L569.40,550.63 L570.39,550.80 L571.38,550.97 L572.37,551.14 L573.36,551.30 L574.35,551.46 L575.34,551.62 L576.33,551.78 L577.32,551.93 L578.31,552.08 L579.30,552.23 L580.29,552.37 L581.29,552.51 L582.28,552.65 L583.27,552.78 L584.27,552.92 L585.26,553.05 L586.25,553.17 L587.25,553.30 L588.24,553.42 L589.24,553.54 L590.23,553.66 L591.23,553.77 L592.23,553.88 L593.22,553.99 L594.22,554.10 L595.22,554.21 L596.21,554.31 L597.21,554.41 L598.21,554.51 L599.21,554.61 L600.20,554.70 L601.20,554.80 L602.20,554.89 L603.20,554.98 L604.20,555.06 L605.20,555.15 L606.20,555.23 L607.19,555.31 L608.19,555.39 L609.19,555.47 L610.19,555.55 L611.19,555.62 L612.19,555.69 L613.19,555.77 L614.19,555.84 L615.19,555.91 L616.19,555.97 L617.19,556.04 L618.19,556.10 L619.19,556.17 L620.19,556.23 L621.20,556.29 L622.20,556.35 L623.20,556.41 L624.20,556.46 L625.20,556.52 L626.20,556.57 L627.20,556.63 L628.20,556.68 L629.20,556.73 L630.20,556.78 L631.20,556.83 L632.20,556.88 L633.20,556.93 L634.20,556.98 L635.20,557.03 L636.20,557.07 L637.20,557.12 L638.20,557.17 L639.20,557.21 L640.20,557.26 L641.20,557.30 L642.20,557.34 L643.20,557.39" fill="none" stroke="#ef6a64" stroke-width="4.40" stroke-linecap="round" stroke-linejoin="round" />
<path d="M112.76,959.44 L112.94,958.47 L113.11,957.49 L113.29,956.51 L113.46,955.54 L113.63,954.56 L113.81,953.58 L113.98,952.60 L114.15,951.62 L114.32,950.64 L114.49,949.66 L114.66,948.68 L114.82,947.70 L114.99,946.71 L115.16,945.73 L115.33,944.75 L115.49,943.77 L115.66,942.78 L115.82,941.80 L115.99,940.81 L116.16,939.83 L116.32,938.84 L116.48,937.86 L116.65,936.87 L116.81,935.88 L116.98,934.90 L117.14,933.91 L117.31,932.92 L117.47,931.93 L117.63,930.95 L117.80,929.96 L117.96,928.97 L118.12,927.98 L118.29,926.99 L118.45,926.00 L118.62,925.01 L118.78,924.02 L118.95,923.03 L119.11,922.05 L119.28,921.06 L119.44,920.07 L119.61,919.07 L119.77,918.08 L119.94,917.09 L120.10,916.10 L120.27,915.11 L120.44,914.12 L120.61,913.13 L120.78,912.14 L120.94,911.15 L121.11,910.16 L121.28,909.17 L121.45,908.18 L121.63,907.19 L121.80,906.20 L121.97,905.21 L122.14,904.22 L122.32,903.23 L122.49,902.24 L122.67,901.25 L122.85,900.26 L123.02,899.27 L123.20,898.28 L123.38,897.29 L123.56,896.30 L123.74,895.31 L123.92,894.32 L124.11,893.33 L124.29,892.34 L124.48,891.35 L124.66,890.37 L124.85,889.38 L125.04,888.39 L125.23,887.40 L125.42,886.41 L125.61,885.43 L125.81,884.44 L126.00,883.46 L126.20,882.47 L126.40,881.48 L126.60,880.50 L126.80,879.51 L127.00,878.53 L127.20,877.55 L127.41,876.56 L127.61,875.58 L127.82,874.60 L128.03,873.61 L128.24,872.63 L128.46,871.65 L128.67,870.67 L128.89,869.69 L129.11,868.71 L129.33,867.73 L129.55,866.75 L129.77,865.78 L130.00,864.80 L130.23,863.82 L130.45,862.84 L130.69,861.87 L130.92,860.89 L131.15,859.92 L131.39,858.94 L131.63,857.97 L131.87,857.00 L132.12,856.03 L132.36,855.06 L132.61,854.09 L132.86,853.12 L133.11,852.15 L133.37,851.18 L133.62,850.21 L133.88,849.24 L134.14,848.28 L134.41,847.31 L134.67,846.35 L134.94,845.38 L135.21,844.42 L135.49,843.46 L135.76,842.50 L136.04,841.54 L136.32,840.58 L136.61,839.62 L136.89,838.66 L137.18,837.70 L137.47,836.75 L137.77,835.79 L138.07,834.84 L138.37,833.89 L138.67,832.93 L138.97,831.98 L139.28,831.03 L139.59,830.08 L139.91,829.14 L140.22,828.19 L140.54,827.24 L140.87,826.30 L141.19,825.35 L141.52,824.41 L141.85,823.47 L142.19,822.53 L142.53,821.59 L142.87,820.65 L143.21,819.71 L143.56,818.78 L143.91,817.84 L144.27,816.91 L144.63,815.98 L144.99,815.04 L145.35,814.11 L145.72,813.19 L146.09,812.26 L146.47,811.33 L146.84,810.41 L147.23,809.48 L147.61,808.56 L148.00,807.64 L148.39,806.72 L148.79,805.80 L149.19,804.88 L149.59,803.97 L150.00,803.05 L150.41,802.14 L150.82,801.23 L151.24,800.32 L151.66,799.41 L152.09,798.50 L152.52,797.59 L152.95,796.69 L153.39,795.79 L153.83,794.89 L154.28,793.99 L154.73,793.09 L155.18,792.19 L155.64,791.29 L156.10,790.40 L156.57,789.51 L157.04,788.62 L157.51,787.73 L157.99,786.85 L158.48,785.97 L158.97,785.09 L159.47,784.22 L159.97,783.35 L160.47,782.48 L160.98,781.61 L161.50,780.75 L162.02,779.89 L162.55,779.04 L163.09,778.19 L163.63,777.35 L164.17,776.51 L164.73,775.67 L165.28,774.84 L165.85,774.01 L166.42,773.19 L167.00,772.37 L167.58,771.56 L168.18,770.76 L168.77,769.96 L169.38,769.16 L169.99,768.38 L170.61,767.59 L171.24,766.82 L171.87,766.05 L172.52,765.29 L173.17,764.53 L173.82,763.78 L174.49,763.04 L175.16,762.31 L175.84,761.58 L176.53,760.86 L177.23,760.15 L177.94,759.44 L178.65,758.75 L179.38,758.06 L180.11,757.38 L180.85,756.71 L181.60,756.04 L182.36,755.39 L183.13,754.74 L183.90,754.11 L184.68,753.48 L185.48,752.86 L186.27,752.25 L187.08,751.65 L187.90,751.05 L188.72,750.47 L189.55,749.90 L190.38,749.34 L191.23,748.78 L192.08,748.24 L192.93,747.70 L193.80,747.18 L194.67,746.66 L195.54,746.16 L196.42,745.66 L197.31,745.18 L198.21,744.71 L199.11,744.24 L200.01,743.79 L200.92,743.35 L201.84,742.92 L202.76,742.49 L203.69,742.08 L204.62,741.69 L205.55,741.30 L206.50,740.92 L207.44,740.56 L208.39,740.20 L209.34,739.86 L210.30,739.53 L211.26,739.21 L212.23,738.90 L213.20,738.60 L214.17,738.32 L215.15,738.05 L216.13,737.79 L217.11,737.54 L218.10,737.31 L219.09,737.08 L220.08,736.87 L221.07,736.67 L222.06,736.49 L223.06,736.32 L224.06,736.16 L225.06,736.02 L226.06,735.89 L227.06,735.78 L228.05,735.68 L229.05,735.59 L230.05,735.53 L231.05,735.47 L232.05,735.43 L233.04,735.41 L234.04,735.41 L235.03,735.42 L236.02,735.45 L237.00,735.50 L237.99,735.56 L238.97,735.64 L239.94,735.74 L240.92,735.86 L241.88,735.99 L242.85,736.15 L243.81,736.32 L244.76,736.51 L245.71,736.72 L246.65,736.96 L247.59,737.21 L248.52,737.48 L249.45,737.77 L250.36,738.09 L251.27,738.42 L252.18,738.78 L253.07,739.15 L253.97,739.54 L254.85,739.96 L255.73,740.39 L256.60,740.83 L257.47,741.29 L258.33,741.77 L259.18,742.27 L260.03,742.78 L260.87,743.30 L261.71,743.84 L262.54,744.39 L263.37,744.96 L264.19,745.54 L265.01,746.13 L265.82,746.73 L266.63,747.34 L267.43,747.96 L268.23,748.59 L269.02,749.23 L269.81,749.88 L270.60,750.53 L271.38,751.20 L272.16,751.87 L272.93,752.55 L273.70,753.23 L274.47,753.92 L275.24,754.61 L276.00,755.30 L276.75,756.00 L277.51,756.71 L278.26,757.41 L279.01,758.12 L279.76,758.83 L280.50,759.54 L281.24,760.25 L281.98,760.96 L282.72,761.67 L283.45,762.38 L284.19,763.09 L284.92,763.80 L285.65,764.52 L286.37,765.23 L287.09,765.94 L287.81,766.66 L288.53,767.37 L289.25,768.08 L289.96,768.80 L290.67,769.52 L291.38,770.23 L292.09,770.95 L292.80,771.67 L293.50,772.39 L294.20,773.11 L294.89,773.83 L295.59,774.55 L296.28,775.27 L296.97,776.00 L297.66,776.72 L298.35,777.45 L299.03,778.18 L299.71,778.91 L300.39,779.64 L301.07,780.37 L301.74,781.10 L302.41,781.83 L303.08,782.57 L303.75,783.31 L304.41,784.04 L305.07,784.78 L305.73,785.52 L306.39,786.27 L307.05,787.01 L307.70,787.76 L308.35,788.51 L309.00,789.26 L309.64,790.01 L310.29,790.76 L310.93,791.52 L311.57,792.27 L312.20,793.03 L312.84,793.79 L313.47,794.56 L314.10,795.32 L314.72,796.09 L315.35,796.86 L315.97,797.63 L316.59,798.40 L317.21,799.18 L317.82,799.96 L318.44,800.74 L319.05,801.52 L319.65,802.31 L320.26,803.10 L320.86,803.89 L321.46,804.68 L322.06,805.48 L322.66,806.28 L323.25,807.08 L323.84,807.88 L324.43,808.69 L325.02,809.50 L325.61,810.31 L326.19,811.12 L326.77,811.94 L327.35,812.75 L327.93,813.57 L328.51,814.39 L329.09,815.21 L329.66,816.03 L330.24,816.86 L330.81,817.68 L331.39,818.50 L331.97,819.33 L332.54,820.15 L333.12,820.97 L333.70,821.79 L334.28,822.62 L334.86,823.44 L335.44,824.26 L336.02,825.08 L336.60,825.89 L337.19,826.71 L337.78,827.52 L338.37,828.33 L338.96,829.14 L339.56,829.95 L340.16,830.75 L340.76,831.55 L341.36,832.35 L341.97,833.14 L342.58,833.94 L343.20,834.72 L343.82,835.51 L344.44,836.29 L345.07,837.06 L345.70,837.83 L346.34,838.60 L346.98,839.36 L347.63,840.11 L348.29,840.86 L348.94,841.61 L349.61,842.34 L350.28,843.08 L350.96,843.80 L351.64,844.52 L352.33,845.24 L353.02,845.95 L353.73,846.65 L354.44,847.34 L355.15,848.02 L355.88,848.70 L356.61,849.37 L357.35,850.03 L358.10,850.69 L358.86,851.33 L359.62,851.97 L360.39,852.60 L361.18,853.22 L361.97,853.83 L362.76,854.44 L363.57,855.03 L364.38,855.62 L365.20,856.20 L366.03,856.77 L366.86,857.34 L367.70,857.90 L368.54,858.45 L369.39,859.00 L370.25,859.54 L371.11,860.07 L371.98,860.60 L372.85,861.12 L373.72,861.64 L374.60,862.15 L375.49,862.66 L376.38,863.16 L377.27,863.66 L378.16,864.15 L379.06,864.64 L379.96,865.12 L380.86,865.60 L381.77,866.08 L382.67,866.55 L383.58,867.02 L384.49,867.49 L385.40,867.95 L386.32,868.41 L387.23,868.87 L388.14,869.32 L389.06,869.78 L389.97,870.23 L390.88,870.68 L391.80,871.13 L392.71,871.58 L393.62,872.02 L394.53,872.47 L395.44,872.91 L396.34,873.35 L397.25,873.80 L398.15,874.24 L399.05,874.68 L399.95,875.13 L400.84,875.57 L401.73,876.02 L402.62,876.46 L403.50,876.91 L404.38,877.35 L405.26,877.79 L406.14,878.23 L407.02,878.67 L407.90,879.11 L408.78,879.54 L409.67,879.96 L410.55,880.38 L411.44,880.79 L412.33,881.20 L413.23,881.59 L414.13,881.98 L415.03,882.36 L415.94,882.73 L416.86,883.09 L417.79,883.43 L418.73,883.77 L419.67,884.09 L420.62,884.40 L421.58,884.69 L422.56,884.97 L423.54,885.23 L424.54,885.47 L425.55,885.70 L426.57,885.91 L427.61,886.10" fill="none" stroke="#c389f0" stroke-width="4.40" stroke-linecap="round" stroke-linejoin="round" />
<path d="M401.20,876.40 C405.62,878.00 419.57,883.63 427.70,886.00 C435.83,888.37 443.75,889.43 450.00,890.60 C456.25,891.77 456.78,891.58 465.20,893.00 C473.62,894.42 491.10,897.27 500.50,899.10 C509.90,900.93 515.73,902.12 521.60,904.00 C527.47,905.88 531.00,909.05 535.70,910.40 C540.40,911.75 545.68,912.22 549.80,912.10 C553.92,911.98 553.93,910.10 560.40,909.70 C566.87,909.30 574.83,909.70 588.60,909.70 C602.37,909.70 633.93,909.70 643.00,909.70" fill="none" stroke="#c389f0" stroke-width="4.40" stroke-linecap="round" stroke-linejoin="round" />
<line x1="231.00" y1="101.60" x2="202.78" y2="111.75" stroke="#1662b0" stroke-width="4.30"/>
<polygon points="192.90,115.30 201.78,106.00 205.67,116.82" fill="#1662b0"/>
<line x1="236.40" y1="186.00" x2="207.46" y2="192.35" stroke="#7cc23a" stroke-width="4.30"/>
<polygon points="197.20,194.60 207.20,186.52 209.67,197.75" fill="#7cc23a"/>
<line x1="196.60" y1="273.60" x2="226.72" y2="275.60" stroke="#7cc23a" stroke-width="4.30"/>
<polygon points="237.20,276.30 225.34,281.27 226.11,269.80" fill="#7cc23a"/>
<line x1="194.00" y1="317.80" x2="225.71" y2="324.29" stroke="#1662b0" stroke-width="4.30"/>
<polygon points="236.00,326.40 223.58,329.73 225.89,318.46" fill="#1662b0"/>
<line x1="202.50" y1="638.20" x2="230.35" y2="627.93" stroke="#ee5f66" stroke-width="4.30"/>
<polygon points="240.20,624.30 231.40,633.67 227.42,622.88" fill="#ee5f66"/>
<line x1="274.40" y1="731.30" x2="296.82" y2="749.90" stroke="#c389f0" stroke-width="4.30"/>
<polygon points="304.90,756.60 292.38,753.68 299.72,744.83" fill="#c389f0"/>
<line x1="128.00" y1="914.00" x2="190.78" y2="948.86" stroke="#e8101a" stroke-width="4.20"/>
<polygon points="200.40,954.20 187.00,953.62 192.82,943.13" fill="#e8101a"/>
<circle cx="121.3" cy="911.3" r="6.8" fill="none" stroke="#e8101a" stroke-width="4.6"/>
<rect x="100.35" y="19.45" width="543.15" height="991.90" stroke="#000" stroke-width="2.6" fill="none"/>
<line x1="100.35" y1="350.10" x2="643.50" y2="350.10" stroke="#000" stroke-width="2.6" fill="none"/>
<line x1="100.35" y1="680.80" x2="643.50" y2="680.80" stroke="#000" stroke-width="2.6" fill="none"/>
<path d="M133.59,19.45L133.59,23.45M133.59,350.10L133.59,346.10M167.59,19.45L167.59,26.95M167.59,350.10L167.59,342.60M201.58,19.45L201.58,23.45M201.58,350.10L201.58,346.10M235.57,19.45L235.57,26.95M235.57,350.10L235.57,342.60M269.56,19.45L269.56,23.45M269.56,350.10L269.56,346.10M303.56,19.45L303.56,26.95M303.56,350.10L303.56,342.60M337.55,19.45L337.55,23.45M337.55,350.10L337.55,346.10M371.54,19.45L371.54,26.95M371.54,350.10L371.54,342.60M405.54,19.45L405.54,23.45M405.54,350.10L405.54,346.10M439.53,19.45L439.53,26.95M439.53,350.10L439.53,342.60M473.52,19.45L473.52,23.45M473.52,350.10L473.52,346.10M507.52,19.45L507.52,26.95M507.52,350.10L507.52,342.60M541.51,19.45L541.51,23.45M541.51,350.10L541.51,346.10M575.50,19.45L575.50,26.95M575.50,350.10L575.50,342.60M609.50,19.45L609.50,23.45M609.50,350.10L609.50,346.10M167.59,350.10L167.59,354.10M167.59,680.80L167.59,676.80M167.59,680.80L167.59,684.80M167.59,1011.35L167.59,1007.35M235.57,350.10L235.57,357.60M235.57,680.80L235.57,673.30M235.57,680.80L235.57,688.30M235.57,1011.35L235.57,1003.85M303.56,350.10L303.56,354.10M303.56,680.80L303.56,676.80M303.56,680.80L303.56,684.80M303.56,1011.35L303.56,1007.35M371.54,350.10L371.54,357.60M371.54,680.80L371.54,673.30M371.54,680.80L371.54,688.30M371.54,1011.35L371.54,1003.85M439.53,350.10L439.53,354.10M439.53,680.80L439.53,676.80M439.53,680.80L439.53,684.80M439.53,1011.35L439.53,1007.35M507.52,350.10L507.52,357.60M507.52,680.80L507.52,673.30M507.52,680.80L507.52,688.30M507.52,1011.35L507.52,1003.85M575.50,350.10L575.50,354.10M575.50,680.80L575.50,676.80M575.50,680.80L575.50,684.80M575.50,1011.35L575.50,1007.35M100.35,338.06L107.85,338.06M643.50,338.06L636.00,338.06M100.35,298.28L104.35,298.28M643.50,298.28L639.50,298.28M100.35,258.50L107.85,258.50M643.50,258.50L636.00,258.50M100.35,218.72L104.35,218.72M643.50,218.72L639.50,218.72M100.35,178.94L107.85,178.94M643.50,178.94L636.00,178.94M100.35,139.16L104.35,139.16M643.50,139.16L639.50,139.16M100.35,99.38L107.85,99.38M643.50,99.38L636.00,99.38M100.35,59.60L104.35,59.60M643.50,59.60L639.50,59.60M100.35,619.60L104.35,619.60M643.50,619.60L639.50,619.60M100.35,558.40L107.85,558.40M643.50,558.40L636.00,558.40M100.35,497.20L104.35,497.20M643.50,497.20L639.50,497.20M100.35,436.00L107.85,436.00M643.50,436.00L636.00,436.00M100.35,374.80L104.35,374.80M643.50,374.80L639.50,374.80M100.35,960.80L104.35,960.80M643.50,960.80L639.50,960.80M100.35,909.90L107.85,909.90M643.50,909.90L636.00,909.90M100.35,859.00L104.35,859.00M643.50,859.00L639.50,859.00M100.35,808.10L107.85,808.10M643.50,808.10L636.00,808.10M100.35,757.20L104.35,757.20M643.50,757.20L639.50,757.20M100.35,706.30L107.85,706.30M643.50,706.30L636.00,706.30" stroke="#000" stroke-width="2.4" fill="none"/>
<text x="93.80" y="28.52" font-size="35.40" text-anchor="end" font-weight="normal" font-style="normal" fill="#000" font-family="Liberation Serif, serif" >60</text>
<text x="93.80" y="108.08" font-size="35.40" text-anchor="end" font-weight="normal" font-style="normal" fill="#000" font-family="Liberation Serif, serif" >40</text>
<text x="93.80" y="187.64" font-size="35.40" text-anchor="end" font-weight="normal" font-style="normal" fill="#000" font-family="Liberation Serif, serif" >20</text>
<text x="93.80" y="267.20" font-size="35.40" text-anchor="end" font-weight="normal" font-style="normal" fill="#000" font-family="Liberation Serif, serif" >0</text>
<text x="93.80" y="346.76" font-size="35.40" text-anchor="end" font-weight="normal" font-style="normal" fill="#000" font-family="Liberation Serif, serif" >-20</text>
<text x="93.80" y="444.70" font-size="35.40" text-anchor="end" font-weight="normal" font-style="normal" fill="#000" font-family="Liberation Serif, serif" >2</text>
<text x="93.80" y="567.10" font-size="35.40" text-anchor="end" font-weight="normal" font-style="normal" fill="#000" font-family="Liberation Serif, serif" >1</text>
<text x="93.80" y="689.50" font-size="35.40" text-anchor="end" font-weight="normal" font-style="normal" fill="#000" font-family="Liberation Serif, serif" >0</text>
<text x="93.80" y="715.00" font-size="35.40" text-anchor="end" font-weight="normal" font-style="normal" fill="#000" font-family="Liberation Serif, serif" >40</text>
<text x="93.80" y="816.80" font-size="35.40" text-anchor="end" font-weight="normal" font-style="normal" fill="#000" font-family="Liberation Serif, serif" >20</text>
<text x="93.80" y="918.60" font-size="35.40" text-anchor="end" font-weight="normal" font-style="normal" fill="#000" font-family="Liberation Serif, serif" >0</text>
<text x="93.80" y="1020.40" font-size="35.40" text-anchor="end" font-weight="normal" font-style="normal" fill="#000" font-family="Liberation Serif, serif" >-20</text>
<text x="100.45" y="1043.20" font-size="35.40" text-anchor="middle" font-weight="normal" font-style="normal" fill="#000" font-family="Liberation Serif, serif" >0</text>
<text x="235.57" y="1043.20" font-size="35.40" text-anchor="middle" font-weight="normal" font-style="normal" fill="#000" font-family="Liberation Serif, serif" >20</text>
<text x="371.54" y="1043.20" font-size="35.40" text-anchor="middle" font-weight="normal" font-style="normal" fill="#000" font-family="Liberation Serif, serif" >40</text>
<text x="507.52" y="1043.20" font-size="35.40" text-anchor="middle" font-weight="normal" font-style="normal" fill="#000" font-family="Liberation Serif, serif" >60</text>
<text x="643.49" y="1043.20" font-size="35.40" text-anchor="middle" font-weight="normal" font-style="normal" fill="#000" font-family="Liberation Serif, serif" >80</text>
<text x="372" y="1084.5" font-size="37" text-anchor="middle" font-family="Liberation Serif, serif"><tspan font-style="italic">T</tspan> (K)</text>
<text transform="translate(35.00,184.60) rotate(-90)" font-size="36.5" text-anchor="middle" font-family="Liberation Serif, serif"><tspan font-style="italic" fill-opacity="0">&#967;</tspan> (emu/mole)</text>
<path d="M24.50,279.70 C23.93,279.40 21.87,278.70 21.10,277.90 C20.33,277.10 19.80,275.70 19.90,274.90 C20.00,274.10 20.73,273.45 21.70,273.10 C22.67,272.75 24.33,272.60 25.70,272.80 C27.07,273.00 28.50,273.90 29.90,274.30 C31.30,274.70 32.70,275.10 34.10,275.20 C35.50,275.30 37.10,275.25 38.30,274.90 C39.50,274.55 40.75,273.85 41.30,273.10 C41.85,272.35 41.90,271.20 41.60,270.40 C41.30,269.60 40.20,268.73 39.50,268.30 C38.80,267.87 37.75,267.88 37.40,267.80" fill="none" stroke="#000" stroke-width="1.6" stroke-linecap="round"/>
<path d="M19.8,264.5 L41.4,283.4" fill="none" stroke="#000" stroke-width="2.1" stroke-linecap="round"/>
<text transform="translate(39.60,506.20) rotate(-90)" font-size="36.5" text-anchor="middle" font-family="Liberation Serif, serif"><tspan font-style="italic">C</tspan>/<tspan font-style="italic">T</tspan> (J/mole K<tspan font-size="22" dy="-19.8">2</tspan><tspan dy="19.8">)</tspan></text>
<text transform="translate(39.40,853.50) rotate(-90)" font-size="36.5" text-anchor="middle" font-family="Liberation Serif, serif"><tspan font-style="italic">M</tspan><tspan font-size="25" dy="14.5">rem</tspan><tspan dy="-14.5">(emu/g)</tspan></text>
<text x="368.40" y="69.70" font-size="31.20" text-anchor="middle" font-weight="bold" font-style="normal" fill="#000" font-family="Liberation Serif, serif" >0.05 kOe</text>
<text x="597.20" y="68.25" font-size="36.00" text-anchor="middle" font-weight="bold" font-style="normal" fill="#000" font-family="Liberation Serif, serif" >(a)</text>
<text x="371.15" y="402.60" font-size="31.20" text-anchor="middle" font-weight="bold" font-style="normal" fill="#000" font-family="Liberation Serif, serif" >0 kOe</text>
<text x="601.10" y="398.50" font-size="36.00" text-anchor="middle" font-weight="bold" font-style="normal" fill="#000" font-family="Liberation Serif, serif" >(b)</text>
<text x="371.85" y="734.70" font-size="31.20" text-anchor="middle" font-weight="bold" font-style="normal" fill="#000" font-family="Liberation Serif, serif" >0 kOe</text>
<text x="599.00" y="729.00" font-size="36.00" text-anchor="middle" font-weight="bold" font-style="normal" fill="#000" font-family="Liberation Serif, serif" >(c)</text>
<text x="559.50" y="123.20" font-size="32.40" font-weight="bold" font-style="italic" fill="#1662b0" font-family="Liberation Serif, serif">H</text>
<path d="M598.50,102.70L592.10,123.20M607.50,102.70L599.80,123.20" stroke="#1662b0" stroke-width="1.90" fill="none"/>
<text x="616.10" y="123.20" font-size="32.40" font-weight="bold" font-style="italic" fill="#1662b0" font-family="Liberation Serif, serif">c</text>
<text x="559.50" y="160.90" font-size="32.40" font-weight="bold" font-style="italic" fill="#7cc23a" font-family="Liberation Serif, serif">H</text>
<path d="M593.4,160.2 H610 M601.7,160.2 V141" stroke="#7cc23a" stroke-width="1.6" fill="none"/>
<text x="619.30" y="160.90" font-size="32.40" font-weight="bold" font-style="italic" fill="#7cc23a" font-family="Liberation Serif, serif">c</text>
<text x="561.40" y="788.40" font-size="32.40" font-weight="bold" font-style="italic" fill="#c389f0" font-family="Liberation Serif, serif">H</text>
<path d="M600.40,768.30L594.00,788.40M610.00,768.30L603.00,788.40" stroke="#c389f0" stroke-width="1.90" fill="none"/>
<text x="618.00" y="788.40" font-size="32.40" font-weight="bold" font-style="italic" fill="#c389f0" font-family="Liberation Serif, serif">c</text>
<text x="427.30" y="475.00" font-size="31.20" font-weight="bold" font-style="italic" fill="#000" font-family="Liberation Serif, serif">T</text>
<text x="446.10" y="481.30" font-size="20.50" font-weight="bold" font-style="normal" fill="#000" font-family="Liberation Serif, serif">C</text>
<text x="459.50" y="475.00" font-size="31.20" font-weight="bold" font-style="normal" fill="#000" font-family="Liberation Serif, serif">=67 K</text>
<text x="175.60" y="528.70" font-size="31.20" font-weight="bold" font-style="italic" fill="#000" font-family="Liberation Serif, serif">T</text>
<text x="195.30" y="535.30" font-size="19.50" font-weight="bold" font-style="normal" fill="#000" font-family="Liberation Serif, serif">Er</text>
<text x="216.70" y="528.70" font-size="31.20" font-weight="bold" font-style="normal" fill="#000" font-family="Liberation Serif, serif">=10 K</text>
<text x="205.50" y="964.60" font-size="31.20" font-weight="bold" font-style="italic" fill="#000" font-family="Liberation Serif, serif">T</text>
<text x="224.60" y="971.00" font-size="20.50" font-weight="bold" font-style="normal" fill="#000" font-family="Liberation Serif, serif">Comp</text>
<text x="276.50" y="964.40" font-size="31.20" font-weight="bold" font-style="normal" fill="#000" font-family="Liberation Serif, serif">=3.15 K</text></svg>
</body></html>
